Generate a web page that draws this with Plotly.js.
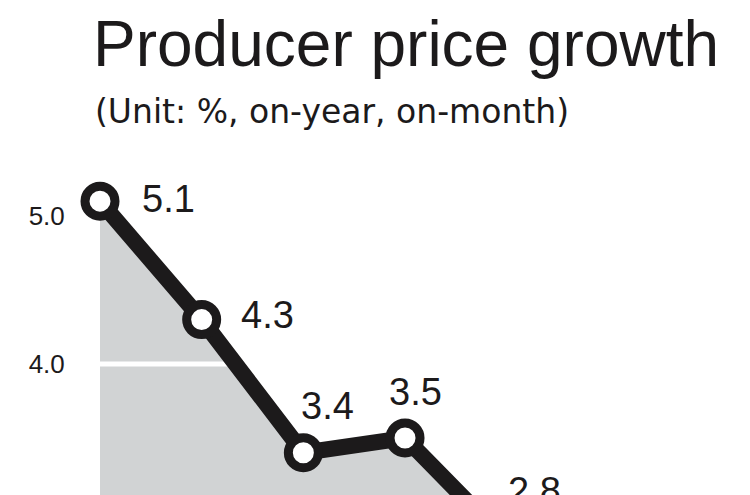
<!DOCTYPE html>
<html>
<head>
<meta charset="utf-8">
<script src="https://cdn.plot.ly/plotly-3.0.1.min.js"></script>
<style>
  html, body { margin: 0; padding: 0; background: #ffffff; overflow: hidden; width: 750px; height: 495px; }
  #chart { width: 750px; height: 700px; }
</style>
</head>
<body>
<div id="chart"></div>
<script>
// ---- data ----
const periods = [0, 1, 2, 3, 4];
const growth = [5.1, 4.3, 3.4, 3.5, 2.8];
const tickVals = [4.0, 5.0];
const tickText = ['4.0', '5.0'];
const gridVals = [3.0, 4.0, 5.0];
const chartTitle = 'Producer price growth';
const chartSubtitle = '(Unit: %, on-year, on-month)';

// label placement style: [xanchor, xshift px, yshift px]
const labelStyle = [
  ['left', 40, 2],
  ['left', 37, 5],
  ['center', 24, 47],
  ['center', 10, 46],
  ['center', 28, 51]
];

const ink = '#1c1a1b';
const sans = '"Liberation Sans", Arial, sans-serif';

// white gridline segments across the gray fill (invisible over white background)
const gx = [], gy = [];
gridVals.forEach(v => { gx.push(-1, 10, null); gy.push(v, v, null); });

const traces = [
  {
    x: periods, y: growth, type: 'scatter', mode: 'lines',
    fill: 'tozeroy', fillcolor: '#d1d3d4',
    line: { width: 0, color: '#d1d3d4' }, hoverinfo: 'skip', showlegend: false
  },
  {
    x: gx, y: gy, type: 'scatter', mode: 'lines',
    line: { width: 5, color: '#ffffff' }, hoverinfo: 'skip', showlegend: false
  },
  {
    x: periods, y: growth, type: 'scatter', mode: 'lines+markers',
    cliponaxis: false,
    line: { width: 16, color: ink },
    marker: { size: 30, color: '#ffffff', line: { width: 9, color: ink } },
    showlegend: false
  }
];

const annotations = growth.map((v, i) => ({
  x: periods[i], y: v, xref: 'x', yref: 'y',
  text: v.toFixed(1), showarrow: false,
  xanchor: labelStyle[i][0], yanchor: 'middle',
  xshift: labelStyle[i][1], yshift: labelStyle[i][2],
  font: { family: sans, size: 38, color: ink }
}));

annotations.push({
  xref: 'paper', yref: 'paper', x: -0.006, y: 1.0709,
  xanchor: 'left', yanchor: 'middle', showarrow: false,
  text: chartSubtitle,
  font: { family: '"DejaVu Sans", sans-serif', size: 33, color: ink }
});

const layout = {
  width: 750, height: 700,
  margin: { l: 97, r: 0, t: 150, b: 0 },
  paper_bgcolor: '#ffffff', plot_bgcolor: '#ffffff',
  title: {
    text: chartTitle,
    xref: 'container', yref: 'container',
    x: 93 / 750, xanchor: 'left',
    y: 1 - 21 / 700, yanchor: 'top',
    font: { family: sans, size: 64, color: ink }
  },
  xaxis: {
    range: [-0.0295, 6.393],
    showgrid: false, zeroline: false, showline: false,
    showticklabels: false, ticks: ''
  },
  yaxis: {
    range: [1.7297, 5.4459],
    tickvals: tickVals, ticktext: tickText,
    showgrid: false, zeroline: false, showline: false,
    ticks: 'outside', ticklen: 26, tickcolor: 'rgba(0,0,0,0)',
    tickfont: { family: sans, size: 26, color: ink }
  },
  annotations: annotations,
  hovermode: false,
  showlegend: false
};

Plotly.newPlot('chart', traces, layout, { displayModeBar: false, staticPlot: true });
</script>
</body>
</html>
